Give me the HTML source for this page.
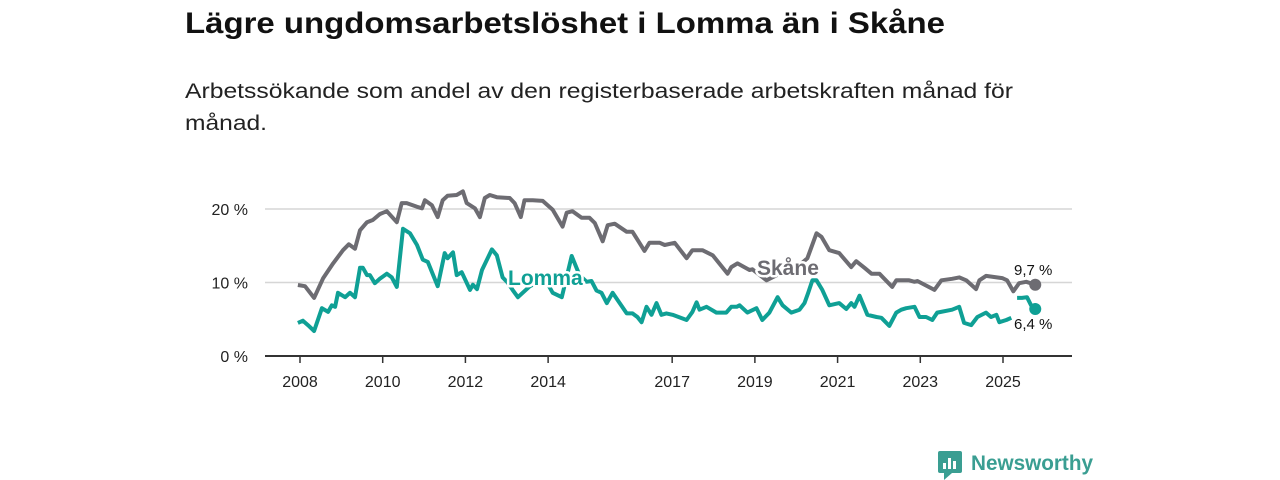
<!DOCTYPE html>
<html><head><meta charset="utf-8"><style>
html,body{margin:0;padding:0;background:#fff;}
svg{display:block;font-family:"Liberation Sans",sans-serif;}
</style></head><body>
<svg id="chart" width="1280" height="480" viewBox="0 0 1280 480" xmlns="http://www.w3.org/2000/svg">
<text x="185" y="33" font-size="30" font-weight="bold" fill="#111" textLength="760" lengthAdjust="spacingAndGlyphs">Lägre ungdomsarbetslöshet i Lomma än i Skåne</text>
<text x="185" y="98" font-size="21" fill="#222" textLength="828" lengthAdjust="spacingAndGlyphs">Arbetssökande som andel av den registerbaserade arbetskraften månad för</text>
<text x="185" y="130" font-size="21" fill="#222" textLength="82" lengthAdjust="spacingAndGlyphs">månad.</text>
<g id="grid"></g>
<g id="series"></g>
<g id="labels"></g>
<g>
<rect x="938" y="451" width="24" height="22" rx="2" fill="#3a9e92"/>
<polygon points="944,473 952,473 944,480" fill="#3a9e92"/>
<rect x="943" y="463" width="3" height="6" fill="#fff"/><rect x="948" y="458" width="3" height="11" fill="#fff"/><rect x="953" y="461" width="3" height="8" fill="#fff"/>
<text x="971" y="470" font-size="21" font-weight="bold" fill="#3a9e92" textLength="122" lengthAdjust="spacingAndGlyphs">Newsworthy</text>
</g>
</svg>
<script>
const yTicks=[0,10,20];
const xTicks=[2008,2010,2012,2014,2017,2019,2021,2023,2025];
const skaneT=[2007.95,2008.12,2008.34,2008.56,2008.80,2009.04,2009.18,2009.33,2009.45,2009.62,2009.76,2009.93,2010.10,2010.34,2010.46,2010.58,2010.83,2010.95,2011.02,2011.19,2011.33,2011.45,2011.57,2011.79,2011.94,2012.03,2012.23,2012.35,2012.47,2012.59,2012.76,2013.07,2013.19,2013.34,2013.43,2013.63,2013.87,2014.11,2014.35,2014.45,2014.59,2014.81,2015.00,2015.13,2015.32,2015.44,2015.61,2015.90,2016.04,2016.33,2016.45,2016.70,2016.82,2017.06,2017.35,2017.49,2017.73,2017.98,2018.34,2018.43,2018.58,2018.87,2018.94,2019.28,2019.6,2019.9,2020.27,2020.49,2020.61,2020.80,2021.04,2021.33,2021.45,2021.65,2021.82,2022.01,2022.32,2022.42,2022.73,2022.86,2022.93,2023.34,2023.51,2023.77,2023.94,2024.11,2024.35,2024.43,2024.59,2024.98,2025.10,2025.25,2025.39,2025.56,2025.78];
const skaneV=[9.66,9.5,7.9,10.6,12.6,14.4,15.2,14.6,17.1,18.2,18.5,19.3,19.7,18.2,20.8,20.8,20.3,20.1,21.2,20.5,18.9,21.2,21.8,21.9,22.4,20.8,20.1,18.9,21.5,21.9,21.6,21.5,20.8,18.9,21.2,21.2,21.1,19.9,17.6,19.5,19.7,18.8,18.8,18.1,15.6,17.8,18.0,16.9,16.9,14.3,15.4,15.4,15.1,15.4,13.3,14.4,14.4,13.7,11.2,12.1,12.6,11.7,11.8,10.3,11.2,11.5,13.3,16.7,16.2,14.4,14.0,12.1,12.9,12.0,11.2,11.2,9.4,10.3,10.3,10.1,10.2,9.0,10.3,10.5,10.7,10.3,9.1,10.3,10.9,10.6,10.3,8.8,9.9,10.1,9.7];
const lommaT=[2007.95,2008.07,2008.19,2008.34,2008.53,2008.68,2008.77,2008.85,2008.92,2009.09,2009.21,2009.33,2009.45,2009.52,2009.62,2009.69,2009.81,2009.93,2010.10,2010.22,2010.34,2010.49,2010.66,2010.83,2010.97,2011.09,2011.33,2011.50,2011.57,2011.70,2011.79,2011.91,2012.11,2012.18,2012.28,2012.40,2012.64,2012.76,2012.90,2013.02,2013.14,2013.27,2013.56,2013.92,2014.11,2014.33,2014.57,2014.76,2014.93,2015.05,2015.17,2015.29,2015.42,2015.56,2015.73,2015.90,2016.04,2016.16,2016.26,2016.38,2016.50,2016.62,2016.74,2016.86,2017.01,2017.35,2017.49,2017.59,2017.66,2017.83,2018.07,2018.31,2018.43,2018.56,2018.63,2018.82,2019.04,2019.18,2019.35,2019.55,2019.67,2019.88,2020.08,2020.20,2020.29,2020.39,2020.49,2020.63,2020.80,2021.04,2021.21,2021.33,2021.41,2021.53,2021.72,2021.94,2022.06,2022.25,2022.42,2022.54,2022.66,2022.86,2022.98,2023.14,2023.29,2023.41,2023.77,2023.94,2024.06,2024.23,2024.38,2024.59,2024.71,2024.84,2024.91,2025.08,2025.20,2025.27,2025.34,2025.46,2025.58,2025.68,2025.78];
const lommaV=[4.5,4.8,4.2,3.4,6.5,6.0,6.9,6.7,8.6,8.0,8.6,8.0,12.0,12.0,11.0,11.0,9.9,10.5,11.2,10.7,9.4,17.3,16.7,15.1,13.1,12.8,9.5,14.0,13.3,14.1,11.0,11.4,9.0,9.7,9.1,11.7,14.5,13.7,10.7,10.0,9.0,8.0,9.5,10.5,8.6,8.0,13.6,11.0,10.1,10.2,8.9,8.6,7.2,8.6,7.2,5.8,5.8,5.3,4.6,6.7,5.6,7.2,5.6,5.8,5.6,4.9,6.0,7.3,6.3,6.7,5.9,5.9,6.7,6.7,6.9,5.9,6.5,4.9,5.9,8.0,6.9,5.9,6.3,7.2,8.6,10.3,10.3,9.0,6.9,7.2,6.4,7.2,6.7,8.2,5.6,5.3,5.2,4.1,5.9,6.3,6.5,6.7,5.3,5.3,4.9,5.9,6.3,6.7,4.5,4.2,5.3,5.9,5.3,5.6,4.6,4.9,5.2,null,7.9,7.9,8.0,6.9,6.4];
const NS="http://www.w3.org/2000/svg";
const x0=265,x1=1072,xa=300,xb=1003;
function xs(t){return xa+(t-2008)*(xb-xa)/17;}
function ys(v){return 356-v*7.35;}
function mk(tag,attrs,parent){const e=document.createElementNS(NS,tag);for(const k in attrs)e.setAttribute(k,attrs[k]);parent.appendChild(e);return e;}
const grid=document.getElementById('grid');
yTicks.forEach(v=>{
  const l=mk('line',{x1:x0,x2:x1,y1:ys(v),y2:ys(v),stroke:v===0?'#333':'#d6d6d6','stroke-width':v===0?2:1.5},grid);
  
  
  const t=mk('text',{x:248,y:ys(v)+6,'text-anchor':'end','font-size':16,fill:'#222'},grid);
  t.textContent=v+' %';
  
  
});
xTicks.forEach(yr=>{
  const tk=mk('line',{x1:xs(yr),x2:xs(yr),y1:357,y2:363,stroke:'#333','stroke-width':1.5},grid);
  
  
  const t=mk('text',{x:xs(yr),y:387,'text-anchor':'middle','font-size':16,fill:'#222'},grid);
  t.textContent=yr;
  
  
});
function path(T,V){let d='',pen=false;for(let i=0;i<T.length;i++){if(V[i]===null){pen=false;continue;}d+=(pen?'L':'M')+xs(T[i]).toFixed(1)+','+ys(V[i]).toFixed(1);pen=true;}return d;}
const ser=document.getElementById('series');
const sk=mk('path',{d:path(skaneT,skaneV),fill:'none',stroke:'#6d6c72','stroke-width':4,'stroke-linejoin':'round'},ser);


const lo=mk('path',{d:path(lommaT,lommaV),fill:'none',stroke:'#0fa095','stroke-width':4,'stroke-linejoin':'round'},ser);


const sl=skaneT.length-1,ll=lommaT.length-1;
const d1=mk('circle',{cx:xs(skaneT[sl]),cy:ys(skaneV[sl]),r:6,fill:'#6d6c72'},ser);


const d2=mk('circle',{cx:xs(lommaT[ll]),cy:ys(lommaV[ll]),r:6,fill:'#0fa095'},ser);


const lab=document.getElementById('labels');
function label(txt,x,y,col,name,size,weight,anchor){const t=mk('text',{x:x,y:y,fill:col,'font-size':size,'font-weight':weight,'text-anchor':anchor||'start',stroke:'#fff','stroke-width':5,'paint-order':'stroke','stroke-linejoin':'round'},lab);t.textContent=txt;return t;}
label('Skåne',757,275,'#6d6c72','skane-label',21,'bold');
label('Lomma',508,285,'#0fa095','lomma-label',21,'bold');
label(skaneV[sl].toFixed(1).replace('.',',')+' %',1014,275,'#111','skane-end-value',15,'normal');
label(lommaV[ll].toFixed(1).replace('.',',')+' %',1014,329,'#111','lomma-end-value',15,'normal');
</script>
</body></html>
